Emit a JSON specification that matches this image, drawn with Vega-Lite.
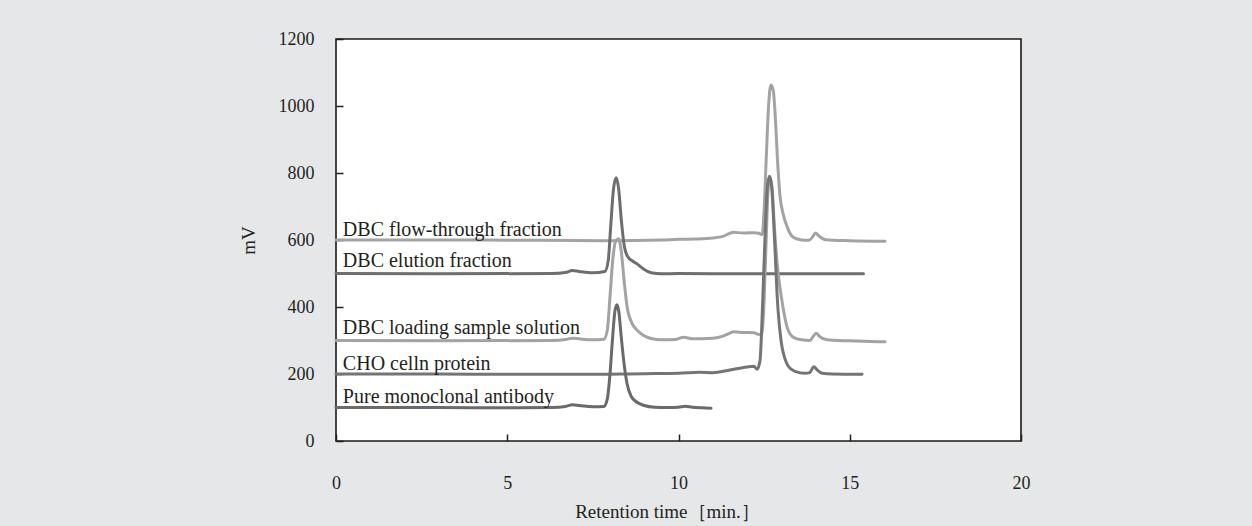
{
  "$schema": "https://vega.github.io/schema/vega-lite/v6.json",
  "autosize": "none",
  "width": 685,
  "height": 402,
  "padding": {"left": 336, "top": 39, "right": 231, "bottom": 85},
  "background": "#e6e7e9",
  "config": {
    "view": {"fill": "#ffffff", "stroke": "#1a1a1a", "strokeWidth": 1.6},
    "axis": {
      "labelFont": "Liberation Serif",
      "titleFont": "Liberation Serif",
      "labelFontSize": 18,
      "titleFontSize": 19,
      "labelColor": "#231f20",
      "titleColor": "#231f20",
      "titleFontWeight": "normal",
      "grid": false,
      "domain": false,
      "ticks": true,
      "tickColor": "#231f20",
      "tickWidth": 1.5,
      "tickSize": 7,
      "offset": -7,
      "zindex": 1
    }
  },
  "datasets": {
    "curves": [
      {"s": "F", "t": 0, "v": 600}, {"s": "F", "t": 4, "v": 600}, {"s": "F", "t": 8, "v": 598}, {"s": "F", "t": 9.5, "v": 600},
      {"s": "F", "t": 10, "v": 602}, {"s": "F", "t": 10.5, "v": 603}, {"s": "F", "t": 11, "v": 606}, {"s": "F", "t": 11.3, "v": 611},
      {"s": "F", "t": 11.5, "v": 620}, {"s": "F", "t": 11.6, "v": 623}, {"s": "F", "t": 11.9, "v": 621}, {"s": "F", "t": 12.2, "v": 622},
      {"s": "F", "t": 12.35, "v": 620}, {"s": "F", "t": 12.44, "v": 616}, {"s": "F", "t": 12.5, "v": 690}, {"s": "F", "t": 12.56, "v": 840},
      {"s": "F", "t": 12.63, "v": 1000}, {"s": "F", "t": 12.7, "v": 1063}, {"s": "F", "t": 12.77, "v": 1045}, {"s": "F", "t": 12.83, "v": 960},
      {"s": "F", "t": 12.89, "v": 840}, {"s": "F", "t": 12.96, "v": 735}, {"s": "F", "t": 13.05, "v": 680}, {"s": "F", "t": 13.17, "v": 640},
      {"s": "F", "t": 13.35, "v": 608}, {"s": "F", "t": 13.6, "v": 600}, {"s": "F", "t": 13.8, "v": 599}, {"s": "F", "t": 13.92, "v": 610},
      {"s": "F", "t": 14.0, "v": 621}, {"s": "F", "t": 14.1, "v": 612}, {"s": "F", "t": 14.3, "v": 601}, {"s": "F", "t": 15, "v": 598},
      {"s": "F", "t": 16.03, "v": 596},

      {"s": "E", "t": 0, "v": 500}, {"s": "E", "t": 3, "v": 499}, {"s": "E", "t": 6.3, "v": 500}, {"s": "E", "t": 6.7, "v": 503},
      {"s": "E", "t": 6.9, "v": 509}, {"s": "E", "t": 7.1, "v": 506}, {"s": "E", "t": 7.5, "v": 502}, {"s": "E", "t": 7.85, "v": 506},
      {"s": "E", "t": 7.95, "v": 540}, {"s": "E", "t": 8.02, "v": 640}, {"s": "E", "t": 8.1, "v": 750}, {"s": "E", "t": 8.18, "v": 786},
      {"s": "E", "t": 8.25, "v": 755}, {"s": "E", "t": 8.33, "v": 660}, {"s": "E", "t": 8.42, "v": 580}, {"s": "E", "t": 8.52, "v": 550},
      {"s": "E", "t": 8.65, "v": 538}, {"s": "E", "t": 8.8, "v": 528}, {"s": "E", "t": 9.0, "v": 512}, {"s": "E", "t": 9.2, "v": 502},
      {"s": "E", "t": 9.5, "v": 499}, {"s": "E", "t": 10, "v": 500}, {"s": "E", "t": 12, "v": 499}, {"s": "E", "t": 15.4, "v": 499},

      {"s": "L", "t": 0, "v": 300}, {"s": "L", "t": 3, "v": 299}, {"s": "L", "t": 6.3, "v": 300}, {"s": "L", "t": 6.7, "v": 303},
      {"s": "L", "t": 6.9, "v": 307}, {"s": "L", "t": 7.1, "v": 305}, {"s": "L", "t": 7.5, "v": 302}, {"s": "L", "t": 7.82, "v": 304},
      {"s": "L", "t": 7.92, "v": 330}, {"s": "L", "t": 8.0, "v": 430}, {"s": "L", "t": 8.08, "v": 540}, {"s": "L", "t": 8.17, "v": 598},
      {"s": "L", "t": 8.25, "v": 604}, {"s": "L", "t": 8.33, "v": 565}, {"s": "L", "t": 8.42, "v": 470}, {"s": "L", "t": 8.5, "v": 400},
      {"s": "L", "t": 8.64, "v": 352}, {"s": "L", "t": 8.8, "v": 330}, {"s": "L", "t": 8.97, "v": 316}, {"s": "L", "t": 9.2, "v": 306},
      {"s": "L", "t": 9.5, "v": 302}, {"s": "L", "t": 9.9, "v": 303}, {"s": "L", "t": 10.15, "v": 310}, {"s": "L", "t": 10.4, "v": 305},
      {"s": "L", "t": 11.0, "v": 307}, {"s": "L", "t": 11.3, "v": 313}, {"s": "L", "t": 11.5, "v": 322}, {"s": "L", "t": 11.6, "v": 326},
      {"s": "L", "t": 11.9, "v": 324}, {"s": "L", "t": 12.2, "v": 323}, {"s": "L", "t": 12.35, "v": 318}, {"s": "L", "t": 12.44, "v": 322},
      {"s": "L", "t": 12.5, "v": 420}, {"s": "L", "t": 12.56, "v": 600}, {"s": "L", "t": 12.62, "v": 755}, {"s": "L", "t": 12.68, "v": 785},
      {"s": "L", "t": 12.74, "v": 745}, {"s": "L", "t": 12.8, "v": 640}, {"s": "L", "t": 12.88, "v": 530}, {"s": "L", "t": 12.96, "v": 460},
      {"s": "L", "t": 13.05, "v": 400}, {"s": "L", "t": 13.17, "v": 340}, {"s": "L", "t": 13.35, "v": 310}, {"s": "L", "t": 13.6, "v": 302},
      {"s": "L", "t": 13.84, "v": 300}, {"s": "L", "t": 13.93, "v": 312}, {"s": "L", "t": 14.02, "v": 322}, {"s": "L", "t": 14.12, "v": 312},
      {"s": "L", "t": 14.33, "v": 302}, {"s": "L", "t": 15, "v": 299}, {"s": "L", "t": 16.03, "v": 296},

      {"s": "C", "t": 0, "v": 200}, {"s": "C", "t": 3, "v": 200}, {"s": "C", "t": 5, "v": 199}, {"s": "C", "t": 7, "v": 199},
      {"s": "C", "t": 9, "v": 201}, {"s": "C", "t": 10, "v": 202}, {"s": "C", "t": 10.6, "v": 205}, {"s": "C", "t": 11, "v": 204},
      {"s": "C", "t": 11.5, "v": 212}, {"s": "C", "t": 12, "v": 221}, {"s": "C", "t": 12.2, "v": 223}, {"s": "C", "t": 12.3, "v": 214},
      {"s": "C", "t": 12.38, "v": 240}, {"s": "C", "t": 12.46, "v": 420}, {"s": "C", "t": 12.53, "v": 620}, {"s": "C", "t": 12.6, "v": 765},
      {"s": "C", "t": 12.66, "v": 790}, {"s": "C", "t": 12.72, "v": 760}, {"s": "C", "t": 12.8, "v": 610}, {"s": "C", "t": 12.9, "v": 400},
      {"s": "C", "t": 13.0, "v": 295}, {"s": "C", "t": 13.1, "v": 248}, {"s": "C", "t": 13.2, "v": 224}, {"s": "C", "t": 13.4, "v": 208},
      {"s": "C", "t": 13.7, "v": 202}, {"s": "C", "t": 13.83, "v": 204}, {"s": "C", "t": 13.95, "v": 222}, {"s": "C", "t": 14.05, "v": 212},
      {"s": "C", "t": 14.2, "v": 202}, {"s": "C", "t": 14.5, "v": 200}, {"s": "C", "t": 15.36, "v": 199},

      {"s": "P", "t": 0, "v": 100}, {"s": "P", "t": 3, "v": 100}, {"s": "P", "t": 5, "v": 99}, {"s": "P", "t": 6.3, "v": 100},
      {"s": "P", "t": 6.7, "v": 103}, {"s": "P", "t": 6.9, "v": 108}, {"s": "P", "t": 7.1, "v": 106}, {"s": "P", "t": 7.5, "v": 102},
      {"s": "P", "t": 7.82, "v": 103}, {"s": "P", "t": 7.92, "v": 125}, {"s": "P", "t": 8.0, "v": 200}, {"s": "P", "t": 8.07, "v": 300},
      {"s": "P", "t": 8.14, "v": 385}, {"s": "P", "t": 8.2, "v": 407}, {"s": "P", "t": 8.26, "v": 385}, {"s": "P", "t": 8.32, "v": 320},
      {"s": "P", "t": 8.4, "v": 240}, {"s": "P", "t": 8.5, "v": 170}, {"s": "P", "t": 8.62, "v": 133}, {"s": "P", "t": 8.8, "v": 115},
      {"s": "P", "t": 9.0, "v": 106}, {"s": "P", "t": 9.3, "v": 101}, {"s": "P", "t": 9.7, "v": 100}, {"s": "P", "t": 10.0, "v": 101},
      {"s": "P", "t": 10.2, "v": 104}, {"s": "P", "t": 10.4, "v": 101}, {"s": "P", "t": 10.7, "v": 99}, {"s": "P", "t": 10.95, "v": 98}
    ],
    "labels": [
      {"t": 0.2, "v": 613, "label": "DBC flow-through fraction"},
      {"t": 0.2, "v": 519, "label": "DBC elution fraction"},
      {"t": 0.2, "v": 318, "label": "DBC loading sample solution"},
      {"t": 0.2, "v": 211, "label": "CHO celln protein"},
      {"t": 0.2, "v": 112, "label": "Pure monoclonal antibody"}
    ]
  },
  "layer": [
    {
      "data": {"name": "curves"},
      "mark": {"type": "line", "interpolate": "monotone", "strokeWidth": 3, "strokeCap": "round", "strokeJoin": "round"},
      "encoding": {
        "x": {
          "field": "t", "type": "quantitative",
          "scale": {"domain": [0, 20], "nice": false, "zero": false},
          "axis": {"orient": "bottom", "values": [0, 5, 10, 15, 20], "title": "Retention time［min.］", "labelPadding": 33, "titlePadding": 10, "titleX": 331, "labelFlush": false}
        },
        "y": {
          "field": "v", "type": "quantitative",
          "scale": {"domain": [0, 1200], "nice": false},
          "axis": {"orient": "left", "values": [0, 200, 400, 600, 800, 1000, 1200], "format": "d", "title": "mV", "labelPadding": 22, "titlePadding": 20, "labelFlush": false}
        },
        "color": {
          "field": "s", "type": "nominal",
          "scale": {"domain": ["F", "E", "L", "C", "P"], "range": ["#a3a3a5", "#6e6e70", "#a3a3a5", "#747476", "#6a6a6c"]},
          "legend": null
        }
      }
    },
    {
      "data": {"name": "labels"},
      "mark": {"type": "text", "align": "left", "baseline": "alphabetic", "font": "Liberation Serif", "fontSize": 20, "color": "#231f20"},
      "encoding": {
        "x": {"field": "t", "type": "quantitative"},
        "y": {"field": "v", "type": "quantitative"},
        "text": {"field": "label"}
      }
    }
  ]
}
